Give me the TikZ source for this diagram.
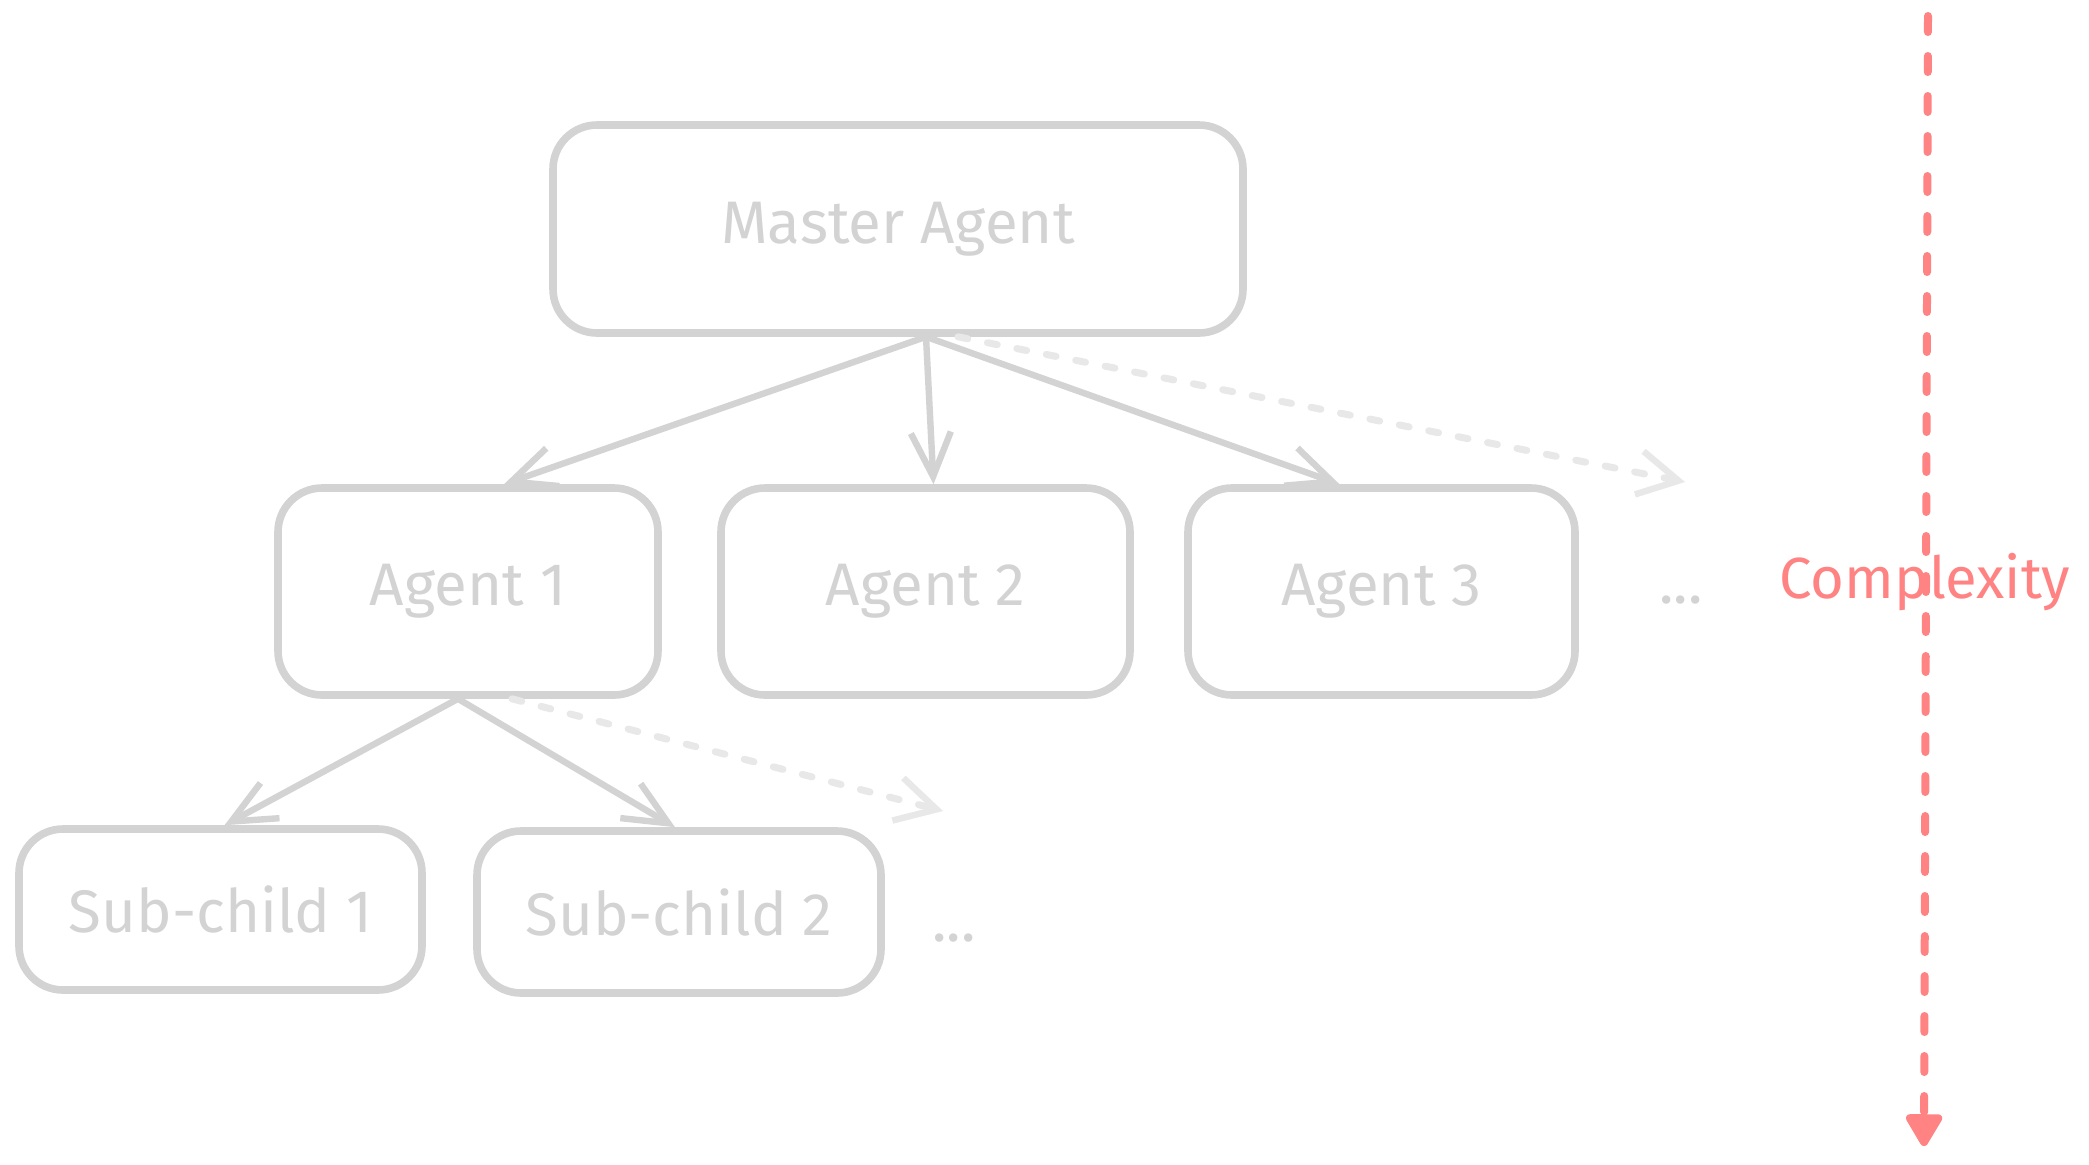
\documentclass[tikz,border=0pt]{standalone}
\usepackage{fontspec}
\setmainfont{Fira Sans}
\usetikzlibrary{arrows.meta,calc}
\definecolor{boxgray}{HTML}{D3D3D3}
\definecolor{lightgray2}{HTML}{E8E8E8}
\definecolor{redc}{HTML}{FF8383}
\tikzset{
  box/.style={draw=boxgray, line width=3.8pt, rounded corners=22pt, fill=white,
    text=boxgray, font=\fontsize{30}{34}\selectfont, inner sep=0pt},
  conn/.style={draw=boxgray, line width=3.2pt, line cap=round,
    -{Straight Barb[length=22pt,width=20pt,line width=3.2pt]}},
  ghost/.style={draw=lightgray2, line width=3.5pt, line cap=round, dash pattern=on 5pt off 10pt,
    -{Straight Barb[length=20pt,width=22pt,line width=3.2pt]}},
  dots/.style={text=boxgray, font=\fontsize{30}{34}\selectfont},
}
\begin{document}
\begin{tikzpicture}[x=0.5pt,y=-0.5pt]
\useasboundingbox[fill=white] (0,0) rectangle (2089,1164);
\node[box, minimum width=345pt, minimum height=104pt] (m) at (898,229) {Master Agent};
\node[box, minimum width=190pt, minimum height=103.5pt] (a1) at (468,591.5) {Agent 1};
\node[box, minimum width=204.5pt, minimum height=103.5pt] (a2) at (925.5,591.5) {Agent 2};
\node[box, minimum width=193.5pt, minimum height=103.5pt] (a3) at (1381.5,591.5) {Agent 3};
\node[dots] (d1) at (1681,600) {...};
\node[box, minimum width=201.5pt, minimum height=80.5pt] (s1) at (220.5,909.5) {Sub-child 1};
\node[box, minimum width=202pt, minimum height=81pt] (s2) at (679,912) {Sub-child 2};
\node[dots] (d2) at (954,938) {...};
\coordinate (gm) at (1685,482);
\coordinate (ga) at (943,811);
\coordinate (rtop) at (1928,16);
\coordinate (rbot) at (1924,1146);
\draw[ghost] ([xshift=30pt]m.south) -- (gm);
\draw[ghost] ([xshift=22pt]a1.south) -- (ga);
\draw[conn] ([xshift=14pt]m.south) -- ([xshift=18pt]a1.north);
\draw[conn] ([xshift=14pt]m.south) -- ([xshift=4pt]a2.north);
\draw[conn] ([xshift=14pt]m.south) -- ([xshift=-21pt]a3.north);
\draw[conn] ([xshift=-5pt]a1.south) -- ([xshift=2pt]s1.north);
\draw[conn] ([xshift=-5pt]a1.south) -- ([xshift=-2pt]s2.north);
\draw[draw=redc, line width=4pt, line cap=round, dash pattern=on 8pt off 12pt,
  -{Triangle[length=18pt,width=20pt,round]}] (rtop) -- (rbot);
\node[text=redc, font=\fontsize{29}{33}\selectfont] (cx) at (1925,582) {Complexity};
\end{tikzpicture}
\end{document}
